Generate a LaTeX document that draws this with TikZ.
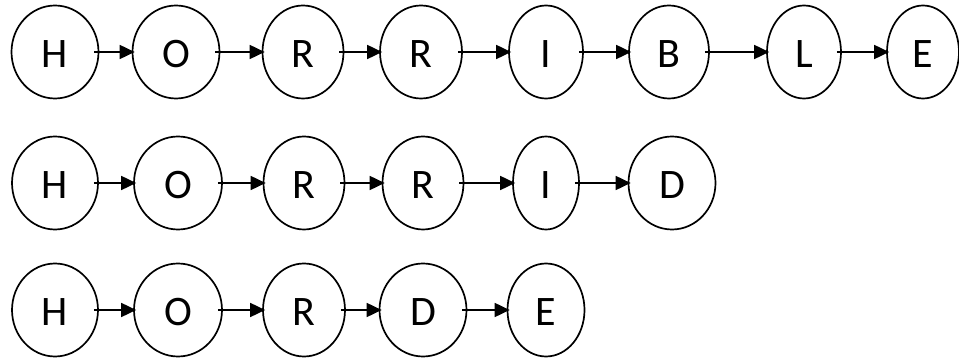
\documentclass[tikz,border=0pt]{standalone}
\usepackage{fontspec}
\setmainfont{Carlito}
\usetikzlibrary{shapes.geometric,arrows.meta}
\tikzset{
  letter/.style={draw, ellipse, line width=1.7pt, inner sep=0pt, minimum height=93pt,
    font=\fontsize{42}{46}\selectfont, text height=31pt, text depth=0pt},
  arr/.style={line width=1.8pt, -{Triangle[length=15pt,width=14pt]},
    shorten <=-5pt, shorten >=-3pt}
}
\begin{document}
\begin{tikzpicture}[x=1pt,y=-1pt]
\useasboundingbox (0,0) rectangle (959,358);
% row 1
\node[letter, minimum width=87pt] (a1) at (55,52) {H};
\node[letter, minimum width=87pt] (a2) at (176,52) {O};
\node[letter, minimum width=81pt] (a3) at (303,52) {R};
\node[letter, minimum width=82pt] (a4) at (421,52) {R};
\node[letter, minimum width=74pt] (a5) at (546,52) {I};
\node[letter, minimum width=80pt] (a6) at (669,52) {B};
\node[letter, minimum width=74pt] (a7) at (804,52) {L};
\node[letter, minimum width=72pt] (a8) at (923,52) {E};
% row 2
\node[letter, minimum width=86pt] (b1) at (55,183) {H};
\node[letter, minimum width=88pt] (b2) at (178,183) {O};
\node[letter, minimum width=81pt] (b3) at (304,183) {R};
\node[letter, minimum width=81pt] (b4) at (423,183) {R};
\node[letter, minimum width=66pt] (b5) at (546,183) {I};
\node[letter, minimum width=87pt] (b6) at (672,183) {D};
% row 3
\node[letter, minimum width=86pt] (c1) at (55,310) {H};
\node[letter, minimum width=88pt] (c2) at (178,310) {O};
\node[letter, minimum width=82pt] (c3) at (304,310) {R};
\node[letter, minimum width=87pt] (c4) at (423,310) {D};
\node[letter, minimum width=77pt] (c5) at (546,310) {E};
% arrows
\foreach \r/\n in {a/8,b/6,c/5}{
  \foreach \i [evaluate=\i as \j using int(\i+1)] in {1,...,\numexpr\n-1\relax}{
    \draw[arr] (\r\i.east) -- (\r\j.west);
  }
}
\end{tikzpicture}
\end{document}
